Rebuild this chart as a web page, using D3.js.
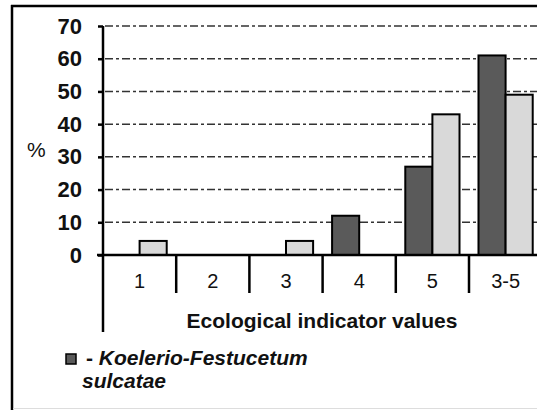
<!DOCTYPE html>
<html>
<head>
<meta charset="utf-8">
<script src="https://cdn.jsdelivr.net/npm/d3@7"></script>
<style>
  body { margin: 0; background: #fff; }
  svg text { font-family: "Liberation Sans", Arial, sans-serif; fill: #111; }
</style>
</head>
<body>
<div class="chart"></div>
<script>
// data
const categories = ["1", "2", "3", "4", "5", "3-5"]
const darkValues = [0, 0, 0, 12, 27, 61]
const lightValues = [4.3, 0, 4.3, 0, 43, 49]
const yTicks = [0, 10, 20, 30, 40, 50, 60, 70]

const w = 537
const h = 410
const left = 103
const bandW = 73.2
const y0 = 255
const yTop = 26

const svg = d3.select(".chart")
  .append("svg")
  .attr("width", w)
  .attr("height", h)

// scales
const xScale = d3.scaleBand()
  .domain(categories)
  .range([left, left + bandW * categories.length])
  .paddingInner(0).paddingOuter(0)

const xSub = d3.scaleBand()
  .domain(["dark", "light"])
  .range([0, xScale.bandwidth()])
  .paddingInner(0).paddingOuter(0.35)

const yScale = d3.scaleLinear()
  .domain([0, 70])
  .range([y0, yTop])

// outer frame (cut off on the right)
svg.append("line").attr("x1", 12).attr("x2", 12).attr("y1", 5).attr("y2", 410)
  .attr("stroke", "#000").attr("stroke-width", 2.5)
svg.append("line").attr("x1", 11).attr("x2", w).attr("y1", 6).attr("y2", 6)
  .attr("stroke", "#000").attr("stroke-width", 2.5)
svg.append("line").attr("x1", 13).attr("x2", w).attr("y1", 408.5).attr("y2", 408.5)
  .attr("stroke", "#ddd").attr("stroke-width", 1)

// y axis
const yAxis = d3.axisLeft(yScale).tickValues(yTicks).tickSize(5).tickFormat(d => d)
const yg = svg.append("g")
  .attr("transform", "translate(" + left + ",0)")
  .call(yAxis)
yg.select(".domain").attr("stroke-width", 2.5).attr("d", "M0," + yTop + "V" + y0)
yg.selectAll(".tick line").attr("stroke-width", 2.5)
yg.selectAll(".tick text")
  .attr("x", -21)
  .style("font-family", "Liberation Sans, Arial, sans-serif")
  .style("font-size", "22px")
  .style("font-weight", "bold")
  .attr("fill", "#111")

// gridlines, dash-dot
svg.append("g")
  .selectAll("line")
  .data(yTicks.filter(d => d > 0))
  .enter()
  .append("line")
  .attr("x1", left + 2)
  .attr("x2", w)
  .attr("y1", d => yScale(d))
  .attr("y2", d => yScale(d))
  .attr("stroke", "#333")
  .attr("stroke-width", 1.5)
  .attr("stroke-dasharray", "8,3,3,3")

// bars
const rows = categories.map((c, i) => ({ cat: c, dark: darkValues[i], light: lightValues[i] }))
const groups = svg.append("g")
  .selectAll("g")
  .data(rows)
  .enter()
  .append("g")
  .attr("transform", d => "translate(" + xScale(d.cat) + ",0)")

groups.selectAll("rect")
  .data(d => [{ k: "dark", v: d.dark }, { k: "light", v: d.light }].filter(e => e.v > 0))
  .enter()
  .append("rect")
  .attr("x", d => xSub(d.k))
  .attr("y", d => yScale(d.v))
  .attr("width", xSub.bandwidth())
  .attr("height", d => y0 - yScale(d.v))
  .attr("fill", d => d.k == "dark" ? "#5a5a5a" : "#d9d9d9")
  .attr("stroke", "#000")
  .attr("stroke-width", 2)

// x axis line
svg.append("line")
  .attr("x1", left - 6).attr("x2", w)
  .attr("y1", y0).attr("y2", y0)
  .attr("stroke", "#000").attr("stroke-width", 2.5)

// category separators
const bounds = d3.range(categories.length + 1).map(i => left + i * bandW)
svg.append("g")
  .selectAll("line")
  .data(bounds)
  .enter()
  .append("line")
  .attr("x1", d => d).attr("x2", d => d)
  .attr("y1", y0)
  .attr("y2", (d, i) => i == 0 ? 332 : 293)
  .attr("stroke", "#000").attr("stroke-width", 2.5)

// category labels
svg.append("g")
  .selectAll("text")
  .data(categories)
  .enter()
  .append("text")
  .attr("x", d => xScale(d) + xScale.bandwidth() / 2)
  .attr("y", 288)
  .attr("text-anchor", "middle")
  .style("font-size", "20px")
  .text(d => d)

// axis titles
svg.append("text")
  .attr("x", 322).attr("y", 328)
  .attr("text-anchor", "middle")
  .style("font-size", "21px")
  .style("font-weight", "bold")
  .text("Ecological indicator values")

svg.append("text")
  .attr("x", 27).attr("y", 157)
  .style("font-size", "21px")
  .text("%")

// legend
svg.append("rect")
  .attr("x", 66).attr("y", 354)
  .attr("width", 10).attr("height", 10)
  .attr("fill", "#5a5a5a").attr("stroke", "#000").attr("stroke-width", 1.5)

const leg = svg.append("text")
  .attr("x", 86).attr("y", 365)
  .style("font-size", "21px")
  .style("font-weight", "bold")
leg.append("tspan").text("- ")
leg.append("tspan").style("font-style", "italic").text("Koelerio-Festucetum")

svg.append("text")
  .attr("x", 82).attr("y", 388)
  .style("font-size", "21px")
  .style("font-weight", "bold")
  .style("font-style", "italic")
  .text("sulcatae")
</script>
</body>
</html>
